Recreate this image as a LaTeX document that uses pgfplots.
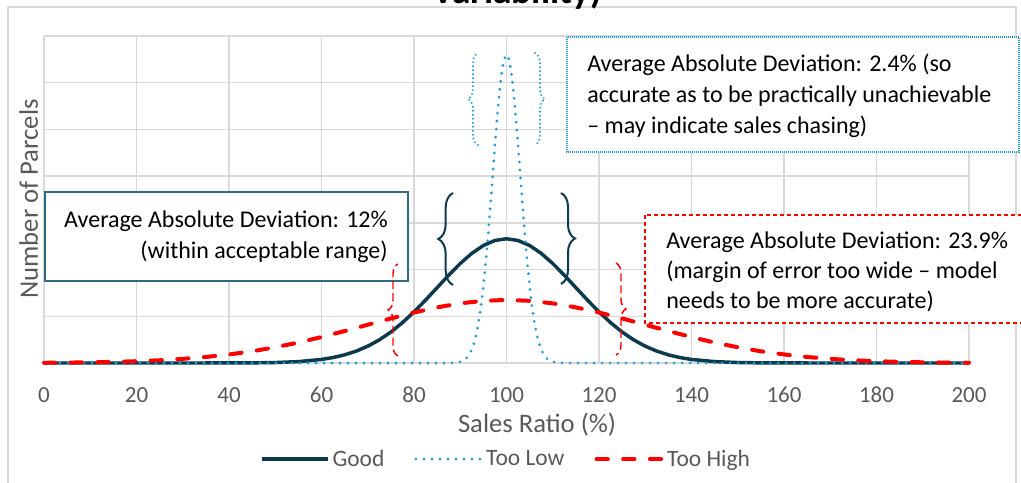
\documentclass[border=0pt]{standalone}
\usepackage{fontspec}
\setmainfont{Carlito}
\usepackage{pgfplots}
\pgfplotsset{compat=1.18}
\usetikzlibrary{decorations.pathreplacing}
\definecolor{good}{HTML}{0B3A4E}
\definecolor{low}{HTML}{1B9DDB}
\definecolor{high}{HTML}{FF0000}
\definecolor{gridc}{HTML}{D9D9D9}
\definecolor{txt}{HTML}{595959}
\definecolor{boxteal}{HTML}{2E6B7E}
\begin{document}
\begin{tikzpicture}
\begin{scope}[x=0.75pt,y=-0.75pt]
\draw[gridc, line width=1.1pt] (8,7) rectangle (1016,500);
\node[anchor=base, inner sep=0pt, font=\fontsize{28}{30}\selectfont\bfseries] at (517,3) {Variability)};
\end{scope}
\begin{axis}[
  at={(33pt,-272.25pt)}, anchor=south west,
  scale only axis, width=693.75pt, height=245.25pt,
  xmin=0, xmax=200, ymin=0, ymax=7,
  clip=false,
  axis line style={draw=none},
  major tick length=0pt,
  xtick={0,20,...,200}, ytick={0,1,...,7}, yticklabels={},
  grid=major, grid style={gridc, line width=1.1pt},
  xticklabel style={anchor=base, yshift=-29.25pt, font=\fontsize{17.25}{20}\selectfont, text=txt},
  /pgf/number format/assume math mode=true,
  xlabel={Sales Ratio (\%)}, ylabel={Number of Parcels},
  xlabel style={at={(axis description cs:0.533,-0.214)}, anchor=base, font=\fontsize{20}{24}\selectfont, text=txt},
  ylabel style={at={(axis description cs:-0.0065,0.5015)}, anchor=base, font=\fontsize{20}{24}\selectfont, text=txt},
  legend style={at={(axis description cs:0.5,-0.2936)}, anchor=center, draw=none, fill=none,
    font=\fontsize{17.6}{20}\selectfont, text=txt,
    /tikz/every even column/.append style={column sep=20.5pt}},
  legend columns=-1,
  legend image code/.code={\draw[#1] (0pt,0pt) -- (49.5pt,0pt);},
]
\addplot[good, line width=2.6pt, line join=round] coordinates {
(0,0) (10,0) (20,0) (30,0) (40,0.001) (45,0.003) (50,0.010) (55,0.030) (60,0.076)
(62.5,0.117) (65,0.175) (67.5,0.254) (70,0.360) (72.5,0.495) (75,0.663) (77.5,0.864)
(80,1.094) (82.5,1.347) (85,1.613) (87.5,1.880) (90,2.130) (92.5,2.347) (95,2.516)
(97.5,2.623) (100,2.660) (102.5,2.623) (105,2.516) (107.5,2.347) (110,2.130) (112.5,1.880)
(115,1.613) (117.5,1.347) (120,1.094) (122.5,0.864) (125,0.663) (127.5,0.495) (130,0.360)
(132.5,0.254) (135,0.175) (137.5,0.117) (140,0.076) (145,0.030) (150,0.010) (155,0.003)
(160,0.001) (170,0) (180,0) (190,0) (200,0)};
\addlegendentry{Good}
\addplot[low, line width=2.3pt, line cap=round, dash pattern=on 0pt off 6pt] coordinates {
(0,0) (20,0) (40,0) (60,0) (80,0) (85,0) (87,0) (88,0.002) (89,0.008) (90,0.025)
(90.5,0.044) (91,0.073) (91.5,0.119) (92,0.189) (92.5,0.290) (93,0.434) (93.5,0.631)
(94,0.893) (94.5,1.229) (95,1.646) (95.5,2.143) (96,2.713) (96.5,3.342) (97,4.003)
(97.5,4.664) (98,5.285) (98.5,5.825) (99,6.243) (99.5,6.509) (100,6.600) (100.5,6.509)
(101,6.243) (101.5,5.825) (102,5.285) (102.5,4.664) (103,4.003) (103.5,3.342) (104,2.713)
(104.5,2.143) (105,1.646) (105.5,1.229) (106,0.893) (106.5,0.631) (107,0.434) (107.5,0.290)
(108,0.189) (108.5,0.119) (109,0.073) (109.5,0.044) (110,0.025) (111,0.008) (112,0.002)
(113,0) (115,0) (120,0) (140,0) (160,0) (180,0) (200,0)};
\addlegendentry{Too Low}
\addplot[high, line width=3pt, line cap=round, dash pattern=on 8.5pt off 11.5pt] coordinates {
(0,0.005) (5,0.009) (10,0.015) (15,0.024) (20,0.039) (25,0.059) (30,0.089) (35,0.129)
(40,0.183) (45,0.251) (50,0.337) (55,0.438) (60,0.555) (65,0.684) (70,0.819) (75,0.954)
(80,1.081) (85,1.191) (90,1.277) (95,1.331) (100,1.350) (105,1.331) (110,1.277) (115,1.191)
(120,1.081) (125,0.954) (130,0.819) (135,0.684) (140,0.555) (145,0.438) (150,0.337)
(155,0.251) (160,0.183) (165,0.129) (170,0.089) (175,0.059) (180,0.039) (185,0.024)
(190,0.015) (195,0.009) (200,0.005)};
\addlegendentry{Too High}
\end{axis}
\begin{scope}[x=0.75pt,y=-0.75pt, every node/.style={inner sep=0pt, font=\fontsize{18}{22}\selectfont, text=black}]
% Too Low box
\draw[low, line width=0.9pt, dash pattern=on 0.75pt off 0.75pt, fill=white] (567,37) rectangle (1019,152);
\node[anchor=base west] at (587,71) {Average Absolute Deviation: 2.4\% (so};
\node[anchor=base west] at (587,102) {accurate as to be practically unachievable};
\node[anchor=base west] at (587,133) {– may indicate sales chasing)};
% Good box
\draw[boxteal, line width=1.1pt, fill=white] (45,192) rectangle (408,281);
\node[anchor=base east] at (388,227) {Average Absolute Deviation: 12\%};
\node[anchor=base east] at (388,258) {(within acceptable range)};
% Too High box
\draw[high, line width=0.9pt, dash pattern=on 3pt off 2.25pt, fill=white] (645,215) rectangle (1030,323);
\node[anchor=base west] at (666,248) {Average Absolute Deviation: 23.9\%};
\node[anchor=base west] at (666,278) {(margin of error too wide – model};
\node[anchor=base west] at (666,308) {needs to be more accurate)};
% braces
\draw[low, line width=1.6pt, line cap=round, dash pattern=on 0pt off 3pt, decorate, decoration={brace, amplitude=7.5pt}] (478,145) -- (478,53);
\draw[low, line width=1.6pt, line cap=round, dash pattern=on 0pt off 3pt, decorate, decoration={brace, amplitude=7.5pt}] (535,53) -- (535,145);
\draw[good, line width=1.5pt, decorate, decoration={brace, amplitude=11pt}] (453,285) -- (453,193);
\draw[good, line width=1.5pt, decorate, decoration={brace, amplitude=10.5pt}] (561,193) -- (561,284);
\draw[high, line width=1.1pt, dash pattern=on 6pt off 3pt, decorate, decoration={brace, amplitude=7.5pt}] (398,356) -- (398,264);
\draw[high, line width=1.1pt, dash pattern=on 6pt off 3pt, decorate, decoration={brace, amplitude=7.5pt}] (616,263) -- (616,355);
\end{scope}
\pgfresetboundingbox
\useasboundingbox (0,0) rectangle (765.75pt,-361.5pt);
\end{tikzpicture}
\end{document}
